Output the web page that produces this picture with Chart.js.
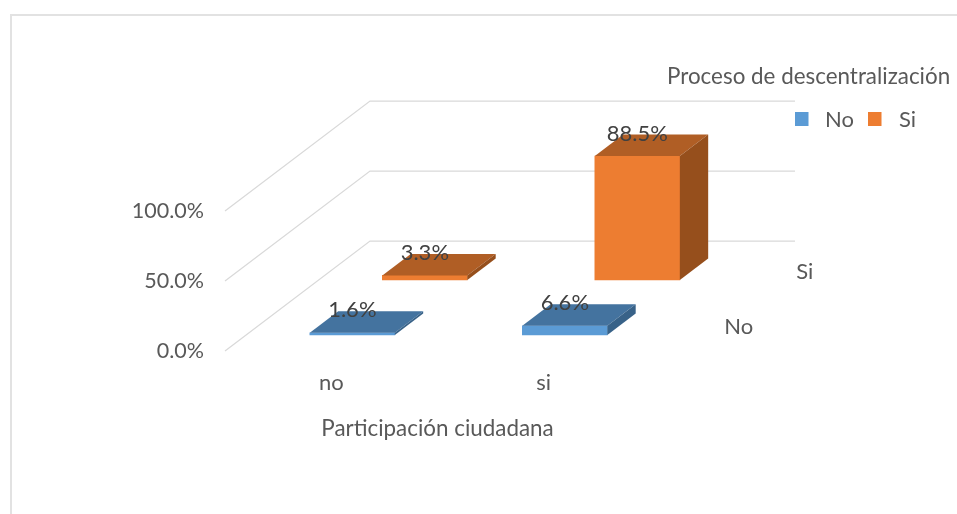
<!DOCTYPE html>
<html>
<head>
<meta charset="utf-8">
<script src="https://cdn.jsdelivr.net/npm/chart.js@4"></script>
<style>
html, body { margin: 0; padding: 0; background: #fff; overflow: hidden; }
#frame { position: absolute; left: 10px; top: 14px; width: 960px; height: 520px; border: 2px solid #e2e2e2; box-sizing: border-box; }
#myChart1 { position: absolute; left: 0; top: 0; }
</style>
</head>
<body>
<div id="frame"></div>
<canvas id="myChart1" width="957" height="514"></canvas>
<script>
var categories = ['no', 'si'];
var seriesNames = ['No', 'Si'];
var valuesNo = [1.6, 6.6];
var valuesSi = [3.3, 88.5];
var yTicks = [0, 50, 100];
var axisTitle = 'Participación ciudadana';
var legendTitle = 'Proceso de descentralización';

var FONT = 'Lato, "Open Sans", sans-serif';
var TEXT = '#595959';
var FLOOR_DX = 145, FLOOR_DY = -110;    // vector profundidad del piso

// donde empieza cada serie en la profundidad (0 adelante, 1 atras)
var seriesDepth = [16 / 110, 71 / 110];
var barDepth = 21.5 / 110;
var depthLabelAt = [0.25, 0.75];
var depthLabelDX = [52.5, 46];

function shiftX(d) { return FLOOR_DX * d; }
function shiftY(d) { return FLOOR_DY * d; }

function poly(ctx, pts, color) {
	ctx.beginPath();
	ctx.moveTo(pts[0][0], pts[0][1]);
	for (var i = 1; i < pts.length; i++) ctx.lineTo(pts[i][0], pts[i][1]);
	ctx.closePath();
	ctx.fillStyle = color;
	ctx.fill();
}

var walls = {
	id: 'walls',
	beforeDatasetsDraw: function(chart) {
		var ctx = chart.ctx, y = chart.scales.y, a = chart.chartArea;
		ctx.save();
		ctx.strokeStyle = '#d9d9d9';
		ctx.lineWidth = 1.25;
		yTicks.forEach(function(t) {
			var py = y.getPixelForValue(t);
			ctx.beginPath();
			ctx.moveTo(a.left, py);
			ctx.lineTo(a.left + FLOOR_DX, py + FLOOR_DY);
			ctx.lineTo(a.right + FLOOR_DX, py + FLOOR_DY);
			ctx.stroke();
		});
		ctx.restore();
	}
};

var cuboids = {
	id: 'cuboids',
	beforeDatasetDraw: function(chart, args) {
		var d = seriesDepth[args.index];
		chart.ctx.save();
		chart.ctx.translate(shiftX(d), shiftY(d));
	},
	afterDatasetDraw: function(chart, args) {
		var ctx = chart.ctx, ds = chart.data.datasets[args.index];
		var dx = shiftX(barDepth), dy = shiftY(barDepth);
		args.meta.data.forEach(function(bar) {
			var l = bar.x - bar.width / 2, r = bar.x + bar.width / 2;
			poly(ctx, [[l, bar.y], [r, bar.y], [r + dx, bar.y + dy], [l + dx, bar.y + dy]], ds.topColor);
			poly(ctx, [[r, bar.y], [r + dx, bar.y + dy], [r + dx, bar.base + dy], [r, bar.base]], ds.sideColor);
		});
		ctx.restore();
	}
};

var texts = {
	id: 'texts',
	afterDraw: function(chart) {
		var ctx = chart.ctx, a = chart.chartArea, y = chart.scales.y;
		ctx.save();
		ctx.font = '22px ' + FONT;
		ctx.textBaseline = 'middle';
		ctx.textAlign = 'center';

		// etiquetas de datos
		ctx.fillStyle = '#404040';
		chart.data.datasets.forEach(function(ds, i) {
			var d = seriesDepth[i];
			chart.getDatasetMeta(i).data.forEach(function(bar, j) {
				ctx.fillText(ds.data[j].toFixed(1) + '%', bar.x + shiftX(d), bar.y + shiftY(d + barDepth) - 1);
			});
		});

		// nombres de serie en el eje de profundidad
		ctx.fillStyle = TEXT;
		seriesNames.forEach(function(name, i) {
			var d = depthLabelAt[i];
			ctx.fillText(name, a.right + shiftX(d) + depthLabelDX[i], y.getPixelForValue(0) + shiftY(d) + 3);
		});

		// leyenda
		ctx.textAlign = 'left';
		ctx.font = '22.4px ' + FONT;
		ctx.fillText(legendTitle, 667, 77);
		ctx.font = '22px ' + FONT;
		var lx = [795, 868];
		chart.data.datasets.forEach(function(ds, i) {
			ctx.fillStyle = ds.backgroundColor;
			ctx.fillRect(lx[i], 112, 13.5, 14);
			ctx.fillStyle = TEXT;
			ctx.fillText(seriesNames[i], lx[i] + (i == 0 ? 30 : 31), 120);
		});
		ctx.restore();
	}
};

var myChart1 = document.getElementById('myChart1').getContext('2d');

var barChart = new Chart(myChart1, {
	type: 'bar',
	data: {
		labels: categories,
		datasets: [
			{ label: seriesNames[0], data: valuesNo, backgroundColor: '#5B9BD5', topColor: '#44739F', sideColor: '#386288', clip: false },
			{ label: seriesNames[1], data: valuesSi, backgroundColor: '#ED7D31', topColor: '#B05E25', sideColor: '#964F1C', clip: false }
		]
	},
	options: {
		responsive: false,
		animation: false,
		layout: { padding: { left: 0, top: 211, right: 307, bottom: 73 } },
		datasets: { bar: { grouped: false, barThickness: 85, borderWidth: 0 } },
		plugins: {
			legend: { display: false },
			tooltip: { enabled: false }
		},
		scales: {
			x: {
				grid: { display: false },
				border: { display: false },
				ticks: { color: TEXT, font: { family: FONT, size: 22 }, padding: 11, maxRotation: 0 },
				title: { display: true, text: axisTitle, color: TEXT, font: { family: FONT, size: 22.4 }, padding: { top: 20, bottom: -1 } },
				afterFit: function(scale) { scale.height = 90; }
			},
			y: {
				min: 0,
				max: 100,
				grid: { display: false },
				border: { display: false },
				afterBuildTicks: function(scale) { scale.ticks = yTicks.map(function(v) { return { value: v }; }); },
				ticks: {
					color: TEXT,
					font: { family: FONT, size: 21.5 },
					padding: 13,
					callback: function(v) { return v.toFixed(1) + '%'; }
				},
				afterFit: function(scale) { scale.width = 225; }
			}
		}
	},
	plugins: [walls, cuboids, texts]
});
</script>
</body>
</html>
